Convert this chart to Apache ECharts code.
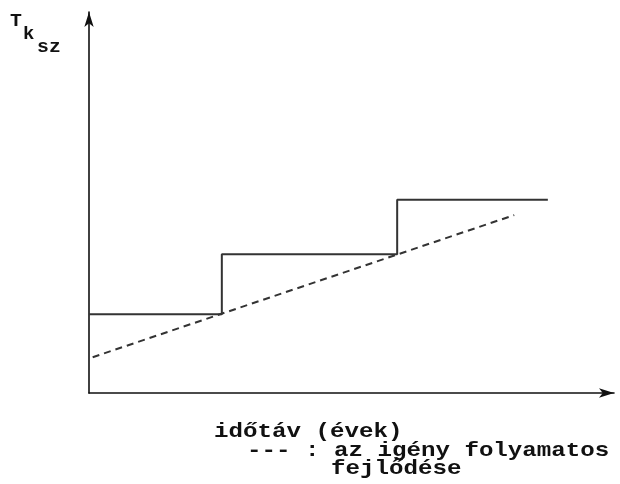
<!DOCTYPE html>
<html>
<head>
<meta charset="utf-8">
<script src="https://cdn.jsdelivr.net/npm/echarts@6/dist/echarts.min.js"></script>
<style>html,body{margin:0;padding:0;background:#fff}#c{width:620px;height:484px}</style>
</head>
<body>
<div id="c"></div>
<script>
// capacity steps (solid) and continuous demand (dashed)
const stepX = [0, 25.3, 58.7, 87.4];
const stepY = [20.7, 36.4, 50.7, 50.7];
const trendX = [0.7, 81.0];
const trendY = [9.4, 46.7];
const yLabel = ['T', 'k', 'sz'];
const xLabel = 'időtáv (évek)';
const noteLines = ['--- : az igény folyamatos', 'fejlődése'];

const chart = echarts.init(document.getElementById('c'));
const font = '"Liberation Mono", "DejaVu Sans Mono", monospace';
const txt = (s, x, y, size, sx) => ({
  type: 'text', x: x, y: y, scaleX: sx, scaleY: 1,
  style: { text: s, font: 'bold ' + size + 'px ' + font, fill: '#111', textAlign: 'left', textVerticalAlign: 'middle' }
});
chart.setOption({
  animation: false,
  grid: { left: 89, right: 6, top: 12, bottom: 91 },
  xAxis: {
    type: 'value', min: 0, max: 100,
    axisLine: { show: true, symbol: ['none', 'arrow'], symbolSize: [7, 15], lineStyle: { color: '#111', width: 1.6 } },
    axisTick: { show: false }, axisLabel: { show: false }, splitLine: { show: false }
  },
  yAxis: {
    type: 'value', min: 0, max: 100,
    axisLine: { show: true, symbol: ['none', 'arrow'], symbolSize: [7, 15], lineStyle: { color: '#111', width: 1.6 } },
    axisTick: { show: false }, axisLabel: { show: false }, splitLine: { show: false }
  },
  series: [
    {
      type: 'line', step: 'end', symbol: 'none',
      data: stepX.map((x, i) => [x, stepY[i]]),
      lineStyle: { color: '#333', width: 2 }
    },
    {
      type: 'line', symbol: 'none',
      data: trendX.map((x, i) => [x, trendY[i]]),
      lineStyle: { color: '#333', width: 2, type: [7, 5] }
    }
  ],
  graphic: [
    txt(yLabel[0], 10, 21, 18, 1.1),
    txt(yLabel[1], 23, 34, 18, 1.05),
    txt(yLabel[2], 37, 47, 18, 1.1),
    txt(xLabel, 214, 432, 21, 1.15),
    txt(noteLines[0], 247, 451, 21, 1.15),
    txt(noteLines[1], 331, 469, 21, 1.15)
  ]
});
</script>
</body>
</html>
